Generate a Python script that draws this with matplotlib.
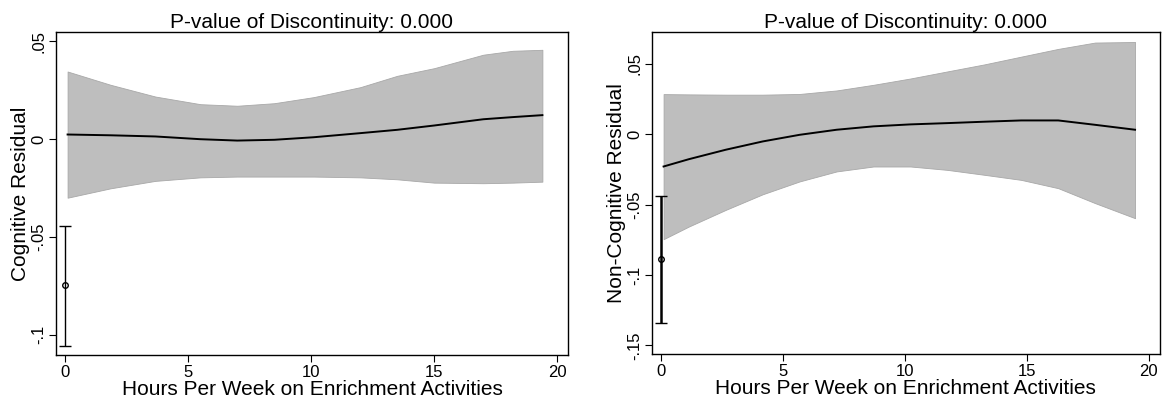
import numpy as np
import matplotlib.pyplot as plt

plt.rcParams['font.family'] = ['Liberation Sans', 'DejaVu Sans']

# Panel 1: cognitive residual
cog_x = [0.1, 1.85, 3.67, 5.5, 7.0, 8.5, 10.1, 12.0, 13.5, 15.0, 17.0, 18.2, 19.4]
cog_mean = [0.0024, 0.0020, 0.0014, 0.0000, -0.0007, -0.0003, 0.0010, 0.0031, 0.0048, 0.0070, 0.0102, 0.0113, 0.0123]
cog_hi = [0.0346, 0.0278, 0.0218, 0.0179, 0.0171, 0.0184, 0.0215, 0.0266, 0.0324, 0.0363, 0.0432, 0.0452, 0.0457]
cog_lo = [-0.0299, -0.0251, -0.0213, -0.0195, -0.0191, -0.0191, -0.0191, -0.0195, -0.0205, -0.0222, -0.0225, -0.0222, -0.0217]
cog_pt = (0, -0.0746, -0.1056, -0.0442)

# Panel 2: non-cognitive residual
ncog_x = [0.1, 1.14, 2.65, 4.17, 5.68, 7.2, 8.71, 10.23, 11.74, 13.26, 14.77, 16.29, 17.8, 19.44]
ncog_mean = [-0.0230, -0.0178, -0.0111, -0.0052, -0.0005, 0.0031, 0.0055, 0.0069, 0.0078, 0.0088, 0.0097, 0.0097, 0.0066, 0.0031]
ncog_hi = [0.0284, 0.0282, 0.0280, 0.0280, 0.0285, 0.0310, 0.0350, 0.0395, 0.0445, 0.0495, 0.0550, 0.0605, 0.0650, 0.0654]
ncog_lo = [-0.0746, -0.0656, -0.0538, -0.0427, -0.0336, -0.0265, -0.0230, -0.0230, -0.0254, -0.0289, -0.0325, -0.0384, -0.0490, -0.0597]
ncog_pt = (0, -0.0886, -0.1340, -0.0438)

title = 'P-value of Discontinuity: 0.000'
xlab = 'Hours Per Week on Enrichment Activities'

fig = plt.figure(figsize=(11.62, 4.05), dpi=100)
ax1 = fig.add_axes([0.048, 0.123, 0.441, 0.798])
ax2 = fig.add_axes([0.561, 0.125, 0.437, 0.796])


def panel(ax, x, m, lo, hi, pt, ylab, yticks, yticklabels, ylim, elw):
    ax.fill_between(x, lo, hi, color='#bebebe', edgecolor='#a8a8a8', linewidth=0.6)
    ax.plot(x, m, color='black', lw=1.4)
    px, py, plo, phi = pt
    ax.errorbar([px], [py], yerr=[[py - plo], [phi - py]], fmt='o', color='black',
                mfc='none', ms=4, mew=1.0, elinewidth=elw, capsize=4, capthick=elw)
    ax.set_xlim(-0.38, 20.45)
    ax.set_ylim(*ylim)
    ax.set_xticks([0, 5, 10, 15, 20])
    ax.set_yticks(yticks)
    ax.set_yticklabels(yticklabels, rotation=90, va='center')
    ax.tick_params(direction='out', length=5, labelsize=12, width=0.8, pad=2)
    ax.set_title(title, fontsize=15, pad=3)
    ax.set_xlabel(xlab, fontsize=15, labelpad=0)
    ax.set_ylabel(ylab, fontsize=15, labelpad=1)
    for s in ax.spines.values():
        s.set_linewidth(1.0)


panel(ax1, cog_x, cog_mean, cog_lo, cog_hi, cog_pt, 'Cognitive Residual',
      [0.05, 0, -0.05, -0.1], ['.05', '0', '-.05', '-.1'], (-0.1104, 0.0548), 1.0)
panel(ax2, ncog_x, ncog_mean, ncog_lo, ncog_hi, ncog_pt, 'Non-Cognitive Residual',
      [0.05, 0, -0.05, -0.1, -0.15], ['.05', '0', '-.05', '-.1', '-.15'], (-0.1564, 0.0725), 1.8)

fig.savefig('out.png', dpi=100)
